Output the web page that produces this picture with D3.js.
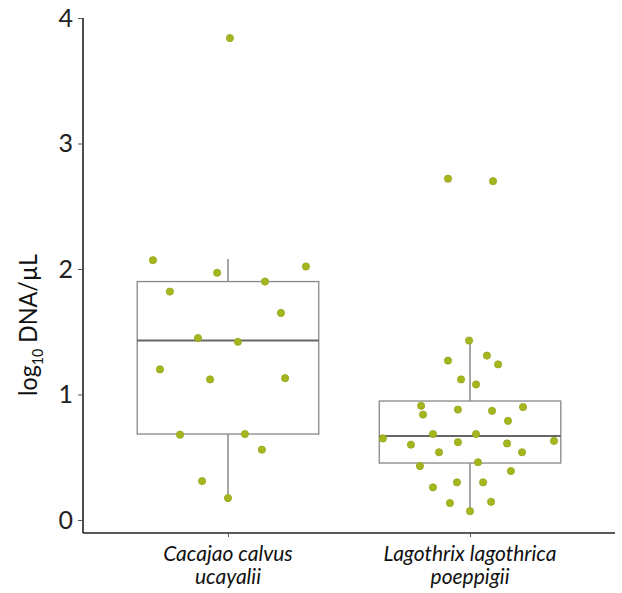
<!DOCTYPE html>
<html><head><meta charset="utf-8">
<script src="https://cdn.jsdelivr.net/npm/d3@7"></script>
<style>body{margin:0;background:#fff}svg{display:block}</style>
</head><body>
<script>
const categories = ["Cacajao calvus|ucayalii", "Lagothrix lagothrica|poeppigii"];
// box stats [lowerWhisker, q1, median, q3, upperWhisker]
const boxCacajao = [0.175, 0.685, 1.43, 1.90, 2.08];
const boxLagothrix = [0.072, 0.454, 0.669, 0.948, 1.434];
// point values and horizontal jitter (in category steps)
const valuesCacajao = [3.84, 2.07, 1.97, 1.90, 2.02, 1.82, 1.65, 1.45, 1.42, 1.20, 1.12, 1.13, 0.68, 0.685, 0.56, 0.31, 0.175];
const jitterCacajao = [0.008, -0.31, -0.045, 0.153, 0.322, -0.24, 0.219, -0.124, 0.041, -0.281, -0.074, 0.236, -0.198, 0.07, 0.14, -0.107, 0.0];
const valuesLagothrix = [2.72, 2.70, 1.43, 1.27, 1.31, 1.24, 1.12, 1.08, 0.91, 0.84, 0.88, 0.87, 0.90, 0.79, 0.65, 0.685, 0.685, 0.63, 0.60, 0.62, 0.61, 0.54, 0.54, 0.46, 0.43, 0.39, 0.30, 0.30, 0.26, 0.135, 0.145, 0.07];
const jitterLagothrix = [-0.091, 0.095, -0.004, -0.091, 0.07, 0.116, -0.037, 0.025, -0.202, -0.194, -0.05, 0.091, 0.219, 0.157, -0.36, -0.153, 0.025, 0.347, -0.244, -0.05, 0.153, -0.128, 0.215, 0.033, -0.207, 0.169, -0.054, 0.054, -0.153, -0.083, 0.087, 0.0];
const yTicks = [0, 1, 2, 3, 4];

const W = 622, H = 593;
const svg = d3.select("body").append("svg").attr("width", W).attr("height", H);

const x = d3.scalePoint().domain(categories).range([83, 615]).padding(0.599);
const step = x.step();
const y = d3.scaleLinear().domain([0, 4]).range([520, 18]);

const font = "Lato, 'Open Sans', sans-serif";

// boxes
const boxes = [boxCacajao, boxLagothrix];
const bw = step * 0.75;
boxes.forEach((b, i) => {
  const cx = x(categories[i]);
  const g = svg.append("g");
  g.append("line").attr("x1", cx).attr("x2", cx).attr("y1", y(b[3])).attr("y2", y(b[4]))
    .attr("stroke", "#777").attr("stroke-width", 1.3);
  g.append("line").attr("x1", cx).attr("x2", cx).attr("y1", y(b[0])).attr("y2", y(b[1]))
    .attr("stroke", "#777").attr("stroke-width", 1.3);
  g.append("rect").attr("x", cx - bw / 2).attr("width", bw)
    .attr("y", y(b[3])).attr("height", y(b[1]) - y(b[3]))
    .attr("fill", "none").attr("stroke", "#888").attr("stroke-width", 1.3);
  g.append("line").attr("x1", cx - bw / 2).attr("x2", cx + bw / 2).attr("y1", y(b[2])).attr("y2", y(b[2]))
    .attr("stroke", "#666").attr("stroke-width", 2);
});

// points
const groups = [[valuesCacajao, jitterCacajao], [valuesLagothrix, jitterLagothrix]];
groups.forEach(([vals, jit], i) => {
  const cx = x(categories[i]);
  svg.append("g").selectAll("circle").data(vals).join("circle")
    .attr("cx", (d, j) => cx + jit[j] * step)
    .attr("cy", d => y(d))
    .attr("r", 3.6)
    .attr("fill", "#a6b61e")
    .attr("stroke", "#93a41a")
    .attr("stroke-width", 0.8);
});

// y axis
const yAxis = svg.append("g").attr("transform", "translate(83,0)")
  .call(d3.axisLeft(y).tickValues(yTicks).tickFormat(d3.format("d")).tickSize(5).tickPadding(5));
yAxis.select(".domain").attr("d", `M0,${y(4)}V533`).attr("stroke", "#222").attr("stroke-width", 1.6);
yAxis.selectAll(".tick line").attr("stroke", "#555");
yAxis.selectAll(".tick text").attr("font-family", font).attr("font-size", 25).attr("fill", "#222");

// x axis
const xAxis = svg.append("g").attr("transform", "translate(0,533)")
  .call(d3.axisBottom(x).tickSize(4).tickFormat(""));
xAxis.select(".domain").attr("d", "M83,0H615").attr("stroke", "#222").attr("stroke-width", 1.6);
xAxis.selectAll(".tick line").attr("stroke", "#555");

categories.forEach(c => {
  const lines = c.split("|");
  const t = svg.append("text").attr("x", x(c)).attr("y", 561)
    .attr("text-anchor", "middle").attr("font-family", font).attr("font-style", "italic")
    .attr("font-size", 21).attr("fill", "#111");
  lines.forEach((l, k) => t.append("tspan").attr("x", x(c)).attr("dy", k === 0 ? 0 : 23).text(l));
});

// y label
const yl = svg.append("text").attr("transform", "translate(37,325) rotate(-90)")
  .attr("text-anchor", "middle").attr("font-family", font).attr("font-size", 25).attr("fill", "#111")
  .attr("textLength", 142).attr("lengthAdjust", "spacingAndGlyphs");
yl.append("tspan").text("log");
yl.append("tspan").attr("font-size", 15).attr("dy", 6).text("10");
yl.append("tspan").attr("dy", -6).text(" DNA/µL");
</script>
</body></html>
